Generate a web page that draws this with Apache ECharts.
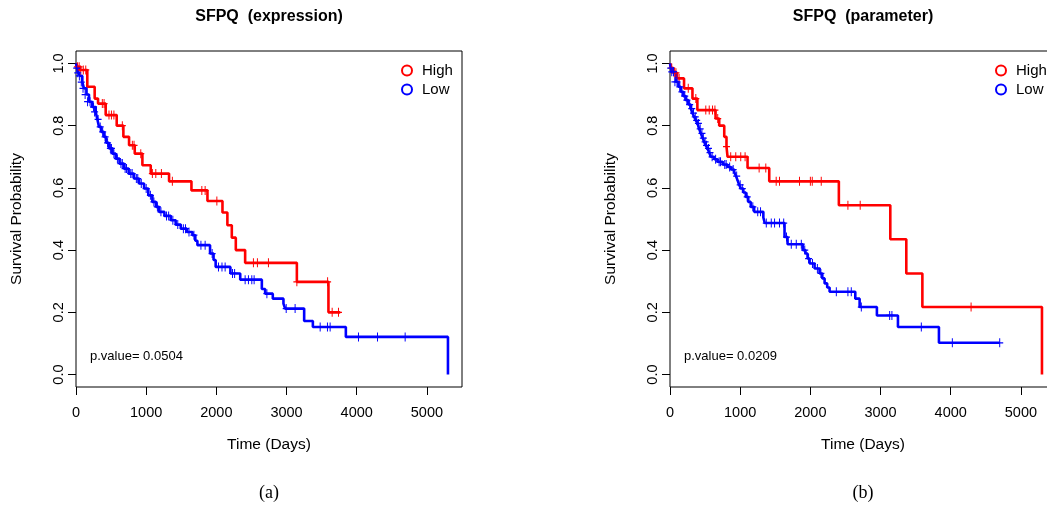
<!DOCTYPE html>
<html><head><meta charset="utf-8">
<script src="https://cdn.jsdelivr.net/npm/echarts@6/dist/echarts.min.js"></script>
<style>html,body{margin:0;padding:0;background:#fff;overflow:hidden}#c{width:1070px;height:510px}</style>
</head><body><div id="c"></div>
<script>
// ---------- data ----------
const panelTitles = ['SFPQ  (expression)', 'SFPQ  (parameter)'];
const panelCaptions = ['(a)', '(b)'];
const pValueTexts = ['p.value= 0.0504', 'p.value= 0.0209'];
const groupNames = ['High', 'Low'];
const xTicks = [0, 1000, 2000, 3000, 4000, 5000];
const yTicks = [0, 0.2, 0.4, 0.6, 0.8, 1.0];

// (a) expression - High : [time, survival] after each event
const exprHighSteps = [[0,1],[25,0.989],[60,0.979],[161,0.925],[266,0.887],[314,0.871],[423,0.834],[580,0.80],[675,0.764],[756,0.737],[837,0.71],[946,0.673],[1065,0.646],[1326,0.621],[1645,0.592],[1873,0.558],[2087,0.521],[2157,0.48],[2220,0.44],[2277,0.40],[2410,0.359],[3147,0.298],[3597,0.20],[3765,0.20]];
const exprHighCensor = [[20,0.989],[45,0.989],[67,0.979],[104,0.979],[139,0.979],[375,0.871],[400,0.871],[470,0.834],[505,0.834],[540,0.834],[660,0.80],[803,0.737],[827,0.737],[923,0.71],[1088,0.646],[1137,0.646],[1217,0.646],[1373,0.621],[1793,0.592],[1840,0.592],[2007,0.558],[2528,0.359],[2585,0.359],[2742,0.359],[3147,0.298],[3585,0.298],[3650,0.20],[3740,0.20]];
// (a) expression - Low
const exprLowSteps = [[0,1],[15,0.985],[35,0.97],[60,0.96],[90,0.94],[114,0.92],[150,0.90],[185,0.877],[230,0.86],[281,0.844],[305,0.82],[328,0.796],[360,0.78],[399,0.764],[430,0.745],[470,0.727],[520,0.71],[566,0.694],[620,0.678],[684,0.662],[750,0.646],[827,0.630],[900,0.614],[970,0.598],[1030,0.576],[1088,0.555],[1140,0.539],[1184,0.523],[1260,0.51],[1350,0.496],[1420,0.482],[1493,0.469],[1580,0.458],[1659,0.448],[1700,0.43],[1730,0.416],[1910,0.389],[1960,0.368],[1990,0.346],[2200,0.325],[2340,0.305],[2648,0.275],[2695,0.26],[2804,0.244],[2956,0.228],[2980,0.212],[3251,0.172],[3375,0.153],[3845,0.121],[5300,0]];
const exprLowCensor = [[10,0.985],[25,0.97],[48,0.96],[75,0.94],[100,0.92],[130,0.90],[165,0.877],[200,0.877],[250,0.86],[265,0.844],[315,0.82],[345,0.796],[380,0.78],[415,0.764],[450,0.745],[490,0.727],[505,0.727],[540,0.71],[590,0.694],[640,0.678],[660,0.678],[700,0.662],[720,0.662],[780,0.646],[800,0.646],[860,0.63],[880,0.63],[930,0.614],[1000,0.598],[1060,0.576],[1110,0.555],[1160,0.539],[1210,0.523],[1290,0.51],[1320,0.51],[1380,0.496],[1450,0.482],[1530,0.469],[1560,0.469],[1610,0.458],[1680,0.448],[1780,0.416],[1840,0.416],[1940,0.389],[2030,0.346],[2080,0.346],[2125,0.346],[2230,0.325],[2260,0.325],[2410,0.305],[2457,0.305],[2505,0.305],[2538,0.305],[2720,0.26],[2995,0.212],[3122,0.212],[3479,0.153],[3583,0.153],[3621,0.153],[4025,0.121],[4296,0.121],[4690,0.121]];

// (b) parameter - High
const paramHighSteps = [[0,1],[20,0.985],[50,0.97],[100,0.952],[200,0.92],[320,0.887],[390,0.85],[649,0.823],[701,0.80],[773,0.764],[805,0.733],[820,0.70],[1105,0.664],[1414,0.621],[2406,0.544],[3139,0.435],[3367,0.325],[3596,0.217],[5300,0]];
const paramHighCensor = [[25,0.985],[60,0.97],[85,0.97],[130,0.952],[260,0.92],[368,0.887],[510,0.85],[559,0.85],[606,0.85],[640,0.85],[680,0.823],[805,0.733],[865,0.70],[937,0.70],[1008,0.70],[1070,0.70],[1270,0.664],[1365,0.664],[1513,0.621],[1560,0.621],[1845,0.621],[2000,0.621],[2027,0.621],[2155,0.621],[2535,0.544],[2710,0.544],[4290,0.217]];
// (b) parameter - Low
const paramLowSteps = [[0,1],[15,0.985],[35,0.973],[83,0.941],[120,0.925],[154,0.909],[190,0.895],[225,0.882],[260,0.868],[297,0.855],[320,0.84],[345,0.828],[370,0.817],[392,0.807],[415,0.79],[440,0.775],[465,0.76],[487,0.748],[510,0.737],[534,0.727],[560,0.713],[582,0.70],[630,0.692],[677,0.684],[750,0.675],[820,0.667],[870,0.659],[915,0.651],[940,0.638],[962,0.625],[985,0.61],[1010,0.598],[1045,0.585],[1080,0.571],[1115,0.555],[1151,0.539],[1199,0.523],[1330,0.505],[1350,0.487],[1632,0.442],[1675,0.419],[1893,0.40],[1930,0.389],[1960,0.373],[1989,0.357],[2060,0.341],[2131,0.325],[2170,0.309],[2203,0.293],[2240,0.28],[2274,0.266],[2640,0.244],[2702,0.217],[2948,0.19],[3248,0.153],[3832,0.102],[4698,0.102]];
const paramLowCensor = [[10,0.985],[25,0.973],[50,0.973],[70,0.941],[100,0.941],[140,0.925],[170,0.909],[210,0.895],[240,0.882],[280,0.868],[310,0.855],[335,0.84],[360,0.828],[380,0.817],[405,0.807],[430,0.79],[455,0.775],[475,0.76],[500,0.748],[520,0.737],[548,0.727],[570,0.713],[600,0.70],[650,0.692],[700,0.684],[720,0.684],[780,0.675],[800,0.675],[850,0.667],[900,0.659],[950,0.638],[1000,0.61],[1030,0.598],[1100,0.571],[1180,0.539],[1250,0.523],[1290,0.523],[1372,0.487],[1443,0.487],[1490,0.487],[1560,0.487],[1620,0.487],[1660,0.442],[1728,0.419],[1799,0.419],[1871,0.419],[1920,0.40],[1975,0.373],[2030,0.357],[2100,0.341],[2150,0.325],[2370,0.266],[2535,0.266],[2583,0.266],[2726,0.217],[3130,0.19],[3162,0.19],[3581,0.153],[4023,0.102],[4698,0.102]];

const panels = [
  {high: exprHighSteps, highC: exprHighCensor, low: exprLowSteps, lowC: exprLowCensor},
  {high: paramHighSteps, highC: paramHighCensor, low: paramLowSteps, lowC: paramLowCensor}
];

// ---------- styling / layout ----------
const FONT = 'Liberation Sans, Arial, Helvetica, sans-serif';
const RED = '#ff0000', BLUE = '#0000ff';
const PLUS = 'path://M4.3,0h1.4v10h-1.4z M0,4.3h10v1.4h-10z';
const gridLeft = [76, 670];
const gridTop = 51, gridW = 386, gridH = 336;

const chart = echarts.init(document.getElementById('c'));
const grids = [], xAxes = [], yAxes = [], series = [], legends = [], graphics = [];

panels.forEach((p, i) => {
  grids.push({left: gridLeft[i], top: gridTop, width: gridW, height: gridH, show: true,
    borderColor: '#000', borderWidth: 1, backgroundColor: 'transparent', containLabel: false});
  xAxes.push({type: 'value', gridIndex: i, min: 0, max: 5500, interval: 1000,
    axisLine: {show: false, onZero: false}, splitLine: {show: false},
    axisTick: {show: true, inside: false, length: 8, lineStyle: {color: '#000', width: 1}, customValues: xTicks},
    axisLabel: {customValues: xTicks, color: '#000', fontSize: 14.5, fontFamily: FONT, margin: 18,
      formatter: v => String(v)},
    name: 'Time (Days)', nameLocation: 'middle', nameGap: 50,
    nameTextStyle: {color: '#000', fontSize: 15.5, fontFamily: FONT}});
  yAxes.push({type: 'value', gridIndex: i, min: -0.04, max: 1.04,
    axisLine: {show: false, onZero: false}, splitLine: {show: false},
    axisTick: {show: true, inside: false, length: 8, lineStyle: {color: '#000', width: 1}, customValues: yTicks},
    axisLabel: {customValues: yTicks, color: '#000', fontSize: 14.5, fontFamily: FONT, margin: 10,
      rotate: 90, formatter: v => v.toFixed(1)},
    name: 'Survival Probability', nameLocation: 'middle', nameGap: 51,
    nameTextStyle: {color: '#000', fontSize: 15.5, fontFamily: FONT}});
  const mk = (name, steps, cens, color) => {
    series.push({name, type: 'line', xAxisIndex: i, yAxisIndex: i, data: steps, step: 'end',
      showSymbol: false, symbol: 'none', color, lineStyle: {color, width: 2.6}, itemStyle: {color},
      animation: false, z: 2});
    series.push({name, type: 'scatter', xAxisIndex: i, yAxisIndex: i, data: cens, symbol: PLUS,
      symbolSize: [7, 9], itemStyle: {color, opacity: 1}, animation: false, z: 3});
  };
  mk(groupNames[0], p.high, p.highC, RED);
  mk(groupNames[1], p.low, p.lowC, BLUE);
  legends.push({orient: 'vertical', left: gridLeft[i] + 320, top: 58, itemWidth: 20, itemHeight: 10,
    itemGap: 4, selectedMode: false, icon: 'emptyCircle',
    data: groupNames.map(n => ({name: n, icon: 'emptyCircle'})),
    itemStyle: {borderWidth: 1.1},
    textStyle: {color: '#000', fontSize: 15, fontFamily: FONT, padding: [0, 0, 0, 0]}});
  const cx = gridLeft[i] + gridW / 2;
  graphics.push({type: 'text', x: cx, y: 17, style: {text: panelTitles[i], fill: '#000',
    font: 'bold 16px ' + FONT, textAlign: 'center', textVerticalAlign: 'middle'}});
  graphics.push({type: 'text', x: cx, y: 493, style: {text: panelCaptions[i], fill: '#000',
    font: '18px Liberation Serif, Times New Roman, serif', textAlign: 'center', textVerticalAlign: 'middle'}});
  graphics.push({type: 'text', x: gridLeft[i] + 14, y: 356, style: {text: pValueTexts[i], fill: '#000',
    font: '13px ' + FONT, textAlign: 'left', textVerticalAlign: 'middle'}});
});

chart.setOption({
  animation: false,
  backgroundColor: '#fff',
  grid: grids, xAxis: xAxes, yAxis: yAxes, series, legend: legends, graphic: graphics
});
</script></body></html>
